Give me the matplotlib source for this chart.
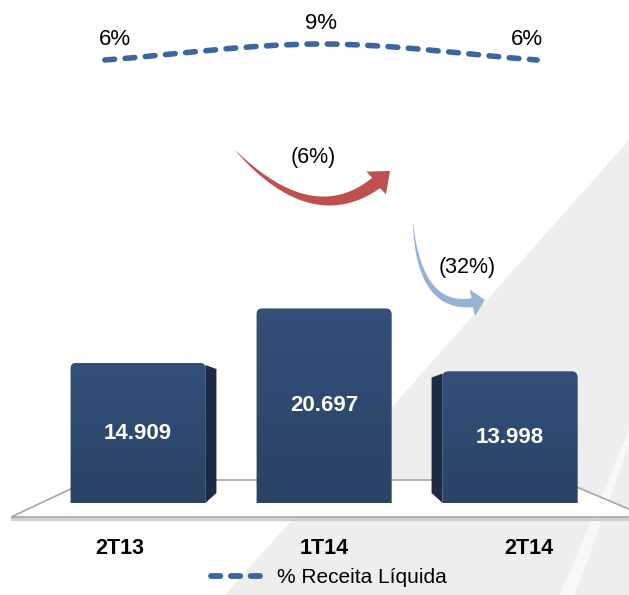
import numpy as np
import matplotlib
matplotlib.use('Agg')
import matplotlib.pyplot as plt
from matplotlib.patches import Rectangle, Polygon, PathPatch, FancyBboxPatch
from matplotlib.colors import LinearSegmentedColormap
from matplotlib.path import Path
from matplotlib.lines import Line2D

# dados do gráfico
categorias = ['2T13', '1T14', '2T14']
valores = [14909, 20697, 13998]
rotulos_valores = ['14.909', '20.697', '13.998']
margem_pct = [6, 9, 6]
variacoes = ['(6%)', '(32%)']
legenda = '% Receita Líquida'

plt.rcParams['font.family'] = ['Liberation Sans', 'DejaVu Sans']

W, H = 629, 595
COR_LINHA = '#3A67A0'
COR_FACE = '#2C4568'
COR_LADO = '#1A2B43'

fig = plt.figure(figsize=(W / 100, H / 100), dpi=100)

# eixo principal ocupa a figura toda (escala px -> dados)
PX_X = 186.0          # px por categoria
X0_PX = 324.0         # centro da categoria do meio
PX_Y = 0.00939        # px por unidade de valor
BASE_PX = 92.0        # base das barras (px a partir de baixo)
ax = fig.add_axes([0, 0, 1, 1])
ax.set_xlim(1 - X0_PX / PX_X, 1 + (W - X0_PX) / PX_X)
ax.set_ylim(-BASE_PX / PX_Y, (H - BASE_PX) / PX_Y)
ax.axis('off')


def fr(px, py):
    # px da imagem (y para baixo) -> fração da figura
    return (px / W, 1 - py / H)


# fundo com faixa cinza diagonal
ax.add_patch(Polygon([fr(629, 140), fr(629, 595), fr(225, 595)], closed=True,
                     transform=ax.transAxes, facecolor='#EEEEEE', edgecolor='none', zorder=0))
ax.add_patch(Polygon([fr(629, 430), fr(629, 445), fr(575, 595), fr(560, 595)], closed=True,
                     transform=ax.transAxes, facecolor='#F8F8F8', edgecolor='none', zorder=0.5))

# "chão" em perspectiva
frente = -14 / PX_Y
fundo = 23 / PX_Y
xl, xr = ax.get_xlim()
chao = [(xl + 0.06, frente), (-0.26, fundo), (2.27, fundo), (xr + 0.1, frente)]
sombra = [(x, y - 250) for x, y in chao]
ax.add_patch(Polygon(sombra, closed=True, facecolor='none', edgecolor='#D0D0D0',
                     linewidth=2.5, zorder=1))
ax.add_patch(Polygon(chao, closed=True, facecolor='white', edgecolor='#A6A6A6',
                     linewidth=1.2, zorder=1.2))

# barras com efeito 3D
larg = 0.725
prof = 11 / PX_X
aspecto = PX_X / PX_Y
cmap_face = LinearSegmentedColormap.from_list('face', ['#2A4365', '#33507A'])
for i, v in enumerate(valores):
    x = i
    esq, dir_ = x - larg / 2, x + larg / 2
    corte = Rectangle((esq - 1, 0), larg + 2, v * 2, transform=ax.transData)
    face = FancyBboxPatch((esq, -1000), larg, v + 1000,
                          boxstyle='round,pad=0,rounding_size=0.03',
                          mutation_aspect=aspecto, facecolor=COR_FACE,
                          edgecolor='none', zorder=3)
    ax.add_patch(face)
    face.set_clip_path(corte)
    grad = np.linspace(0.0, 1.0, 64).reshape(-1, 1)
    img = ax.imshow(grad, extent=(esq, dir_, 0, v), origin='lower', aspect='auto',
                    cmap=cmap_face, zorder=3.1)
    img.set_clip_path(face)
    sobe = 10 / PX_Y
    if i == 0:
        lado = [(dir_, 0), (dir_ + prof, sobe), (dir_ + prof, v - 6 / PX_Y), (dir_, v - 2 / PX_Y)]
    elif i == 2:
        lado = [(esq, 0), (esq - prof, sobe), (esq - prof, v - 6 / PX_Y), (esq, v - 2 / PX_Y)]
    else:
        lado = None
    if lado:
        ax.add_patch(Polygon(lado, closed=True, facecolor=COR_LADO, edgecolor='none', zorder=2.9))
    ax.text(x, v / 2, rotulos_valores[i], color='white', fontsize=16, fontweight='bold',
            ha='center', va='center', zorder=4)
    ax.annotate(categorias[i], (1 + (i - 1) * 1.1, 0), xytext=(0, -32.5),
                textcoords='offset points', ha='center', va='center',
                fontsize=15.5, fontweight='bold', color='black', zorder=4)

# linha de % receita líquida (eixo próprio no topo), suavizada como no Excel
axl = fig.add_axes([0, 503 / H, 1, 80 / H])
axl.set_xlim(ax.get_xlim())
axl.set_ylim(0, 15)
axl.axis('off')
xs = [1 - 0.016 + (i - 1) * 1.162 for i in range(len(margem_pct))]
pts = np.column_stack([xs, margem_pct]).astype(float)
verts = [tuple(pts[0])]
codes = [Path.MOVETO]
for k in range(len(pts) - 1):
    ant = pts[k - 1] if k > 0 else pts[k]
    prox = pts[k + 2] if k + 2 < len(pts) else pts[k + 1]
    c1 = pts[k] + (pts[k + 1] - ant) / 6 * (2 if k == 0 else 1)
    c2 = pts[k + 1] - (prox - pts[k]) / 6 * (2 if k + 2 >= len(pts) else 1)
    verts += [tuple(c1), tuple(c2), tuple(pts[k + 1])]
    codes += [Path.CURVE4] * 3
axl.add_patch(PathPatch(Path(verts, codes), facecolor='none', edgecolor=COR_LINHA,
                        linewidth=4.0, linestyle=(0, (1.75, 1.9)), capstyle='round'))
for i, (x, m) in enumerate(zip(xs, margem_pct)):
    axl.annotate(f'{m}%', (x, m), xytext=(-(i - 1) * 7, 15), textcoords='offset points',
                 ha='center', va='center', fontsize=16)


# setas curvas afinando na cauda
def seta_curva(p0, c, ponta, w_corpo, w_cabeca, l_cabeca, cor):
    p0, c, ponta = map(np.asarray, (p0, c, ponta))
    t = np.linspace(0, 1, 400)[:, None]
    B = (1 - t) ** 2 * p0 + 2 * t * (1 - t) * c + t ** 2 * ponta
    d = np.hypot(*(B - ponta).T)
    k = np.where(d >= l_cabeca)[0][-1]
    B = B[:k + 1]
    tg = np.gradient(B, axis=0)
    tg /= np.hypot(*tg.T)[:, None]
    nrm = np.column_stack([-tg[:, 1], tg[:, 0]])
    w = w_corpo * (np.linspace(0, 1, k + 1) ** 0.8)[:, None]
    esq_ = B + nrm * w / 2
    dir_ = B - nrm * w / 2
    base = B[-1]
    u = (ponta - base) / np.hypot(*(ponta - base))
    nu = np.array([-u[1], u[0]])
    cab = [base + nu * w_cabeca / 2, ponta, base - nu * w_cabeca / 2]
    poly = np.vstack([esq_, cab, dir_[::-1]])
    poly = np.array([fr(px, py) for px, py in poly])
    ax.add_patch(Polygon(poly, closed=True, transform=ax.transAxes, facecolor=cor,
                         edgecolor='none', zorder=5))


seta_curva((235, 150), (320, 240), (390, 171), 13, 30, 18, '#C0504D')
seta_curva((413, 223), (420, 319), (485, 300), 9, 27, 13, '#95B3D7')
ax.text(*fr(313, 158), variacoes[0], transform=ax.transAxes, ha='center', va='center',
        fontsize=15.5)
ax.text(*fr(467, 267), variacoes[1], transform=ax.transAxes, ha='center', va='center',
        fontsize=15.5)

# legenda
h = Line2D([], [], color=COR_LINHA, linewidth=4.2, linestyle=(0, (1.6, 1.8)),
           dash_capstyle='round')
fig.legend(handles=[h], labels=[legenda], loc='lower center', bbox_to_anchor=(0.523, -0.018),
           frameon=False, fontsize=15, handlelength=2.6, handletextpad=0.6)

fig.savefig('out.png', dpi=100)
